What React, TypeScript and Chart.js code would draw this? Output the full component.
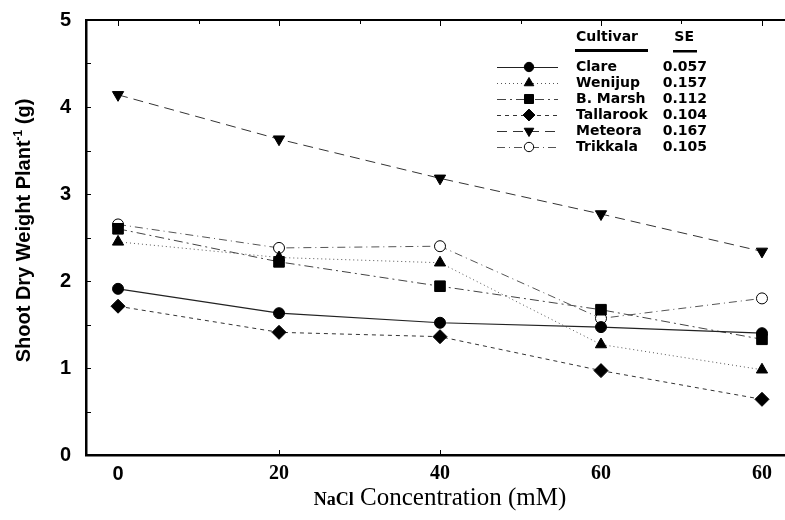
import React, { useEffect, useRef } from 'react';
import { Chart, registerables } from 'chart.js';

Chart.register(...registerables);

// ---- data ----
const concentrationIndex = [0, 1, 2, 3, 4];
const xTickLabels = ['0', '20', '40', '60', '60'];
const yTickValues = [0, 1, 2, 3, 4, 5];
const cultivars = ['Clare', 'Wenijup', 'B. Marsh', 'Tallarook', 'Meteora', 'Trikkala'];
const seValues = ['0.057', '0.157', '0.112', '0.104', '0.167', '0.105'];
const clare = [1.91, 1.63, 1.52, 1.47, 1.4];
const wenijup = [2.45, 2.27, 2.21, 1.27, 0.98];
const bMarsh = [2.6, 2.22, 1.94, 1.67, 1.33];
const tallarook = [1.71, 1.41, 1.36, 0.97, 0.64];
const meteora = [4.14, 3.63, 3.18, 2.77, 2.34];
const trikkala = [2.65, 2.38, 2.4, 1.57, 1.8];
const seriesValues = [clare, wenijup, bMarsh, tallarook, meteora, trikkala];

// ---- styles ----
type Sty = { shape: string; rotation: number; radius: number; dash: number[]; fill: string; line: string; lw: number };
const styles: Sty[] = [
  { shape: 'circle', rotation: 0, radius: 5.5, dash: [], fill: '#000', line: '#222', lw: 1.2 },
  { shape: 'triangle', rotation: 0, radius: 6.5, dash: [1, 3], fill: '#000', line: '#555', lw: 1 },
  { shape: 'rect', rotation: 0, radius: 7.5, dash: [9, 4, 2, 4], fill: '#000', line: '#444', lw: 1 },
  { shape: 'rectRot', rotation: 0, radius: 7, dash: [4, 4], fill: '#000', line: '#333', lw: 1 },
  { shape: 'triangle', rotation: 180, radius: 6.5, dash: [10, 6], fill: '#000', line: '#333', lw: 1 },
  { shape: 'circle', rotation: 0, radius: 5.5, dash: [8, 4, 1, 4], fill: '#fff', line: '#555', lw: 1 },
];

function drawMarker(ctx: CanvasRenderingContext2D, s: Sty, x: number, y: number) {
  const r = s.radius;
  ctx.save();
  ctx.setLineDash([]);
  ctx.fillStyle = s.fill;
  ctx.strokeStyle = '#000';
  ctx.lineWidth = 1;
  ctx.beginPath();
  if (s.shape === 'circle') {
    ctx.arc(x, y, r, 0, Math.PI * 2);
  } else if (s.shape === 'rect') {
    const h = r * Math.SQRT1_2;
    ctx.rect(x - h, y - h, 2 * h, 2 * h);
  } else if (s.shape === 'rectRot') {
    ctx.moveTo(x, y - r);
    ctx.lineTo(x + r, y);
    ctx.lineTo(x, y + r);
    ctx.lineTo(x - r, y);
    ctx.closePath();
  } else if (s.shape === 'triangle') {
    let rad = (s.rotation * Math.PI) / 180;
    ctx.moveTo(x + Math.sin(rad) * r, y - Math.cos(rad) * r);
    rad += (2 * Math.PI) / 3;
    ctx.lineTo(x + Math.sin(rad) * r, y - Math.cos(rad) * r);
    rad += (2 * Math.PI) / 3;
    ctx.lineTo(x + Math.sin(rad) * r, y - Math.cos(rad) * r);
    ctx.closePath();
  }
  ctx.fill();
  ctx.stroke();
  ctx.restore();
}

const decorPlugin = {
  id: 'decor',
  afterDraw(chart: any) {
    const { ctx, chartArea: a, scales } = chart;
    const x = scales.x;
    const y = scales.y;
    ctx.save();
    ctx.strokeStyle = '#000';
    ctx.setLineDash([]);
    // top frame line
    ctx.lineWidth = 2;
    ctx.beginPath();
    ctx.moveTo(a.left, a.top);
    ctx.lineTo(a.right, a.top);
    ctx.stroke();
    // inward y ticks every half unit
    ctx.lineWidth = 1;
    for (let v = 0.5; v < 5; v += 0.5) {
      const py = Math.round(y.getPixelForValue(v)) + 0.5;
      ctx.beginPath();
      ctx.moveTo(a.left, py);
      ctx.lineTo(a.left + 5, py);
      ctx.stroke();
    }
    // top ticks every half category
    for (let v = 0; v <= 4; v += 0.5) {
      const px = Math.round(x.getPixelForValue(v)) + 0.5;
      ctx.beginPath();
      ctx.moveTo(px, a.top);
      ctx.lineTo(px, a.top + (Number.isInteger(v) ? 6 : 4));
      ctx.stroke();
    }
    // bottom ticks
    for (const v of [1, 2]) {
      const px = Math.round(x.getPixelForValue(v)) + 0.5;
      ctx.beginPath();
      ctx.moveTo(px, a.bottom);
      ctx.lineTo(px, a.bottom - 5);
      ctx.stroke();
    }

    // y axis title with superscript
    ctx.fillStyle = '#000';
    const main = 'Shoot Dry Weight Plant';
    const sup = '-1';
    const tail = ' (g)';
    const fMain = 'bold 20px "Liberation Sans", Arial, sans-serif';
    const fSup = 'bold 12px "Liberation Sans", Arial, sans-serif';
    ctx.font = fMain;
    const w1 = ctx.measureText(main).width;
    const w3 = ctx.measureText(tail).width;
    ctx.font = fSup;
    const w2 = ctx.measureText(sup).width;
    const total = w1 + w2 + w3;
    ctx.save();
    ctx.translate(30, (a.top + a.bottom) / 2 - 7);
    ctx.rotate(-Math.PI / 2);
    ctx.textBaseline = 'alphabetic';
    ctx.textAlign = 'left';
    let cx = -total / 2;
    ctx.font = fMain;
    ctx.fillText(main, cx, 0);
    cx += w1;
    ctx.font = fSup;
    ctx.fillText(sup, cx, -8);
    cx += w2;
    ctx.font = fMain;
    ctx.fillText(tail, cx, 0);
    ctx.restore();

    // x axis title
    const t1 = 'NaCl';
    const t2 = ' Concentration (mM)';
    const f1 = 'bold 18px "Liberation Serif", "Times New Roman", serif';
    const f2 = '25px "Liberation Serif", "Times New Roman", serif';
    ctx.font = f1;
    const tw1 = ctx.measureText(t1).width;
    ctx.font = f2;
    const tw2 = ctx.measureText(t2).width;
    const xc = x.getPixelForValue(2);
    let tx = xc - (tw1 + tw2) / 2;
    const ty = 505;
    ctx.textAlign = 'left';
    ctx.textBaseline = 'alphabetic';
    ctx.font = f1;
    ctx.fillText(t1, tx, ty);
    tx += tw1;
    ctx.font = f2;
    ctx.fillText(t2, tx, ty);

    // legend
    const lx0 = a.right - 288; // line sample start
    const lx1 = a.right - 227; // line sample end
    const mx = a.right - 256; // marker
    const nameX = a.right - 209;
    const seRight = a.right - 78;
    const headY = a.top + 17;
    const row0 = a.top + 47;
    const rowH = 16;
    ctx.font = 'bold 14px "DejaVu Sans", sans-serif';
    ctx.textBaseline = 'middle';
    ctx.textAlign = 'left';
    ctx.fillText('Cultivar', nameX, headY);
    ctx.textAlign = 'right';
    ctx.fillText('SE', seRight - 13, headY);
    ctx.fillRect(nameX - 1, headY + 12, 73, 3);
    ctx.fillRect(seRight - 34, headY + 13, 24, 2.5);
    for (let i = 0; i < cultivars.length; i++) {
      const s = styles[i];
      const ry = row0 + i * rowH;
      ctx.save();
      ctx.strokeStyle = s.line;
      ctx.lineWidth = s.lw;
      ctx.setLineDash(s.dash);
      ctx.beginPath();
      ctx.moveTo(lx0, ry + 0.5);
      ctx.lineTo(lx1, ry + 0.5);
      ctx.stroke();
      ctx.restore();
      const ls = { ...s, radius: s.radius * 0.85 };
      drawMarker(ctx, ls, mx, ry);
      ctx.fillStyle = '#000';
      ctx.textAlign = 'left';
      ctx.fillText(cultivars[i], nameX, ry);
      ctx.textAlign = 'right';
      ctx.fillText(seValues[i], seRight, ry);
    }
    ctx.restore();
  },
};

export default function App() {
  const ref = useRef<HTMLCanvasElement>(null);
  useEffect(() => {
    if (!ref.current) return;
    const datasets = cultivars.map((name, i) => {
      const s = styles[i];
      return {
        label: name,
        data: concentrationIndex.map((c, j) => ({ x: c, y: seriesValues[i][j] })),
        borderColor: s.line,
        borderWidth: s.lw,
        borderDash: s.dash,
        backgroundColor: s.fill,
        pointStyle: s.shape,
        pointRotation: s.rotation,
        pointRadius: s.radius,
        pointBackgroundColor: s.fill,
        pointBorderColor: '#000',
        pointBorderWidth: 1,
        tension: 0,
        fill: false,
      };
    });
    const chart = new Chart(ref.current, {
      type: 'line',
      data: { datasets },
      plugins: [decorPlugin],
      options: {
        animation: false,
        responsive: false,
        devicePixelRatio: 1,
        layout: { autoPadding: false, padding: { top: 20, left: 0, right: 0, bottom: 0 } },
        plugins: { legend: { display: false }, tooltip: { enabled: false } },
        scales: {
          x: {
            type: 'linear',
            min: -0.199,
            max: 4.143,
            afterFit: (s: any) => {
              s.height = 65;
              s.paddingLeft = 0;
              s.paddingRight = 0;
            },
            afterBuildTicks: (s: any) => {
              s.ticks = concentrationIndex.map((v) => ({ value: v }));
            },
            grid: { display: false, drawTicks: false },
            border: { display: true, color: '#000', width: 2.5 },
            ticks: {
              padding: 7,
              color: '#000',
              maxRotation: 0,
              autoSkip: false,
              font: (ctx: any) =>
                ctx.index === 0
                  ? { family: '"Liberation Sans", Arial, sans-serif', size: 20, weight: 'bold' }
                  : { family: '"Liberation Serif", "Times New Roman", serif', size: 20, weight: 'bold' },
              callback: (v: any) => xTickLabels[Math.round(Number(v))] ?? '',
            },
          },
          y: {
            type: 'linear',
            min: 0,
            max: 5,
            afterFit: (s: any) => {
              s.width = 86;
              s.paddingTop = 0;
              s.paddingBottom = 0;
            },
            afterBuildTicks: (s: any) => {
              s.ticks = yTickValues.map((v) => ({ value: v }));
            },
            grid: { display: false, drawTicks: false },
            border: { display: true, color: '#000', width: 2.5 },
            ticks: {
              padding: 15,
              color: '#000',
              font: { family: '"Liberation Sans", Arial, sans-serif', size: 20, weight: 'bold' },
              callback: (v: any) => String(v),
            },
          },
        },
      } as any,
    });
    return () => chart.destroy();
  }, []);
  return (
    <div style={{ position: 'absolute', left: 0, top: 0, width: 785, height: 520, background: '#fff' }}>
      <canvas ref={ref} width={785} height={520} style={{ display: 'block' }} />
    </div>
  );
}
